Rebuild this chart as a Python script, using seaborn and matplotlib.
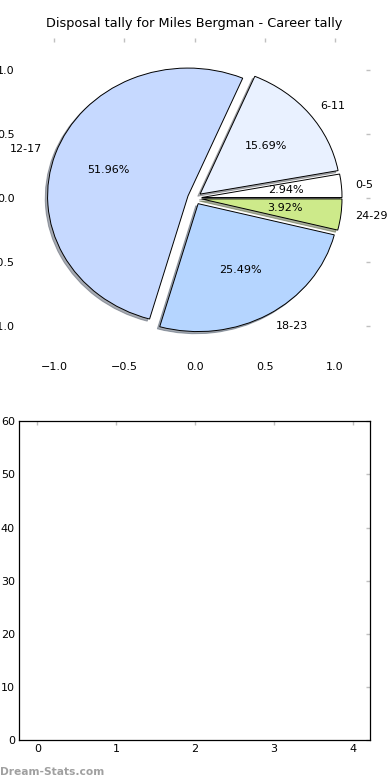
import numpy as np
import seaborn as sns
from matplotlib import pyplot as plt

# disposal ranges and number of games in each
ranges = ['0-5', '6-11', '12-17', '18-23', '24-29']
games = [3, 16, 53, 26, 4]
slice_colors = ['#ffffff', '#e9f1ff', '#c6d9ff', '#b5d5ff', '#cdea8a']

# second panel (empty)
bar_x = [0, 1, 2, 3, 4]
bar_yticks = [0, 10, 20, 30, 40, 50, 60]

sns.set_style("white")
plt.rcParams['font.family'] = ['DejaVu Sans']
plt.rcParams['font.size'] = 8
plt.rcParams['text.color'] = 'black'
plt.rcParams['xtick.labelcolor'] = 'black'
plt.rcParams['ytick.labelcolor'] = 'black'

fig = plt.figure(figsize=(3.9, 7.8), dpi=100)
ax1 = fig.add_axes([0.049, 0.541, 0.9, 0.41])
ax2 = fig.add_axes([0.049, 0.051, 0.9, 0.409])

# pie
ax1.pie(games, labels=ranges, colors=slice_colors, explode=[0.05] * len(games),
        autopct='%1.2f%%', shadow={'ox': -0.012, 'oy': -0.012, 'shade': 0.6},
        startangle=0,
        wedgeprops={'edgecolor': 'black', 'linewidth': 0.7},
        textprops={'fontsize': 8, 'color': 'black'})
ax1.set_aspect('auto')
ax1.set_frame_on(False)
ax1.set_xlim(-1.25, 1.25)
ax1.set_ylim(-1.25, 1.25)
ax1.set_xticks(np.arange(-1.0, 1.01, 0.5))
ax1.set_yticks(np.arange(-1.0, 1.01, 0.5))
ax1.set_xticklabels(['\u22121.0', '\u22120.5', '0.0', '0.5', '1.0'])
ax1.set_yticklabels(['\u22121.0', '\u22120.5', '0.0', '0.5', '1.0'])
ax1.set_title('Disposal tally for Miles Bergman - Career tally', fontsize=9.3,
              color='black', pad=8)

for ax in (ax1, ax2):
    ax.tick_params(direction='in', length=3, width=1, color='#c0c0c0',
                   top=True, right=True, labelsize=8, pad=3)

# empty bottom panel
ax2.set_xlim(-0.23, 4.22)
ax2.set_ylim(0, 60)
ax2.set_xticks(bar_x)
ax2.set_yticks(bar_yticks)
for s in ax2.spines.values():
    s.set_color('black')
    s.set_linewidth(0.9)

fig.text(0.0, 0.004, 'Dream-Stats.com', color='#a0a0a0', fontsize=7.7,
         fontweight='bold', ha='left', va='bottom')

plt.savefig('out.png', dpi=100)
